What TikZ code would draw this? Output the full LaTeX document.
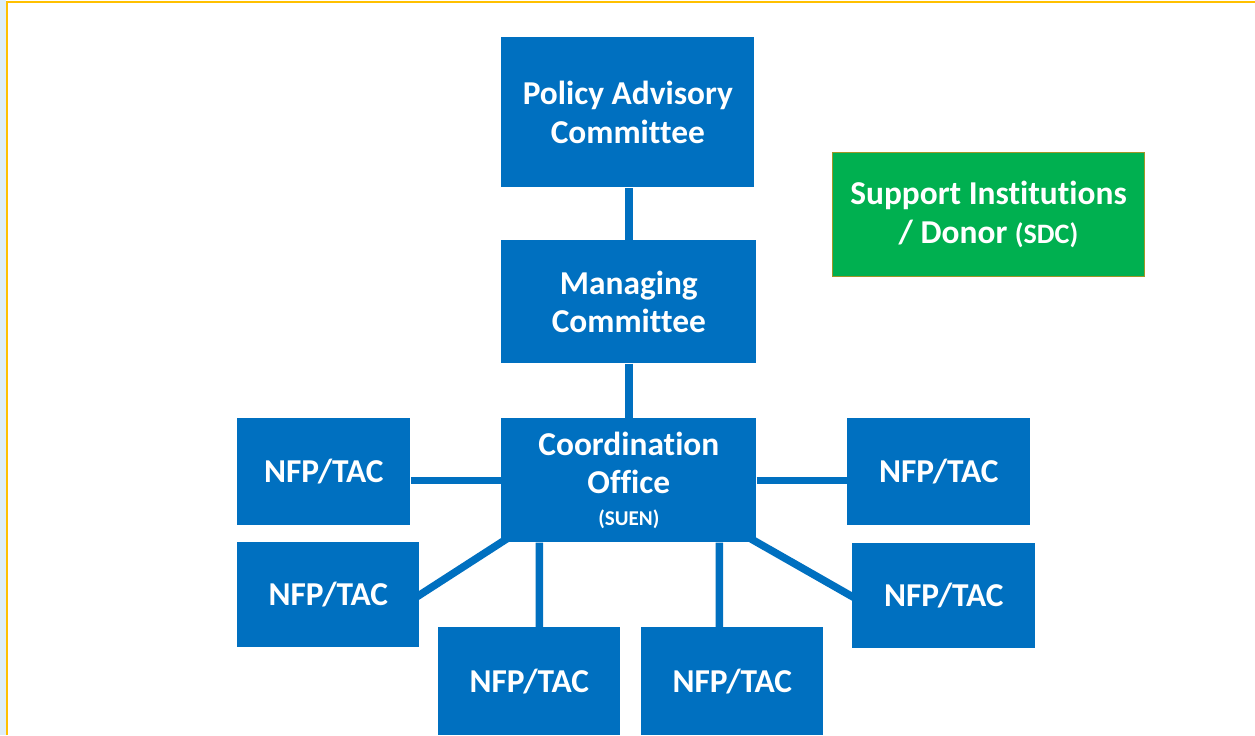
\documentclass[tikz,border=0pt]{standalone}
\usepackage		 {fontspec}
\usepackage		 {xcolor   }
\usepackage		 {tikz	  }
\usetikzlibrary{shapes,calc,positioning,backgrounds}
\setmainfont{Carlito}[RawFeature={-liga}]

\definecolor{boxblue}{RGB}{0,112,192}
\definecolor{boxgreen}{RGB}{0,176,80}
\definecolor{greenedge}{RGB}{160,150,40}
\definecolor{framegold}{RGB}{255,192,0}
\definecolor{stripblue}{RGB}{222,238,247}

\begin{document}
\begin{tikzpicture}[x=0.02cm,y=-0.02cm]
  \tikzset{
  blk/.style={rectangle,anchor=north west,fill=boxblue,text=white,inner sep=0pt,
    align=center,font=\fontsize{19}{22}\selectfont\bfseries},
  grn/.style={blk,fill=boxgreen,draw=greenedge,line width=0.6pt},
  link/.style={boxblue,line width=0.15cm},
  }
  \useasboundingbox (0,0) rectangle (1255,735);

  % the boxes
  \node[blk,minimum width=5.06cm,minimum height=3.00cm] (pac) at (501, 37) {Policy Advisory\\Committee};
  \node[blk,minimum width=5.10cm,minimum height=2.46cm] (mc)  at (501,240) {Managing\\Committee};
  \node[blk,minimum width=5.10cm,minimum height=2.48cm] (co)  at (501,418)
    {Coordination\\Office\\[-4pt]{\fontsize{12}{14}\selectfont (SUEN)}};
  \node[grn,minimum width=6.24cm,minimum height=2.48cm] (sid) at (832,152)
    {Support Institutions\\/ Donor {\fontsize{16}{18}\selectfont (SDC)}};

  \node[blk,minimum width=3.46cm,minimum height=2.14cm] (l1) at (237,418) {NFP/TAC};
  \node[blk,minimum width=3.64cm,minimum height=2.10cm] (l2) at (237,542) {NFP/TAC};
  \node[blk,minimum width=3.64cm,minimum height=2.16cm] (b1) at (438,627) {NFP/TAC};
  \node[blk,minimum width=3.64cm,minimum height=2.16cm] (b2) at (641,627) {NFP/TAC};
  \node[blk,minimum width=3.66cm,minimum height=2.14cm] (r1) at (847,418) {NFP/TAC};
  \node[blk,minimum width=3.66cm,minimum height=2.10cm] (r2) at (852,543) {NFP/TAC};

  \begin{pgfonlayer}{background}
  % the page and its frame
  \fill[white] (0,0) rectangle (1255,735);
  \fill[stripblue] (0,0) rectangle (6,735);
  \draw[framegold,line width=0.05cm] (7,735) -- (7,2) -- (1255,2);

  % the connection between the boxes
  \draw[link] (mc.north) -- (mc.north |- pac.south);
  \draw[link] (mc.south) -- (co.north);
  \draw[link] (co.west) -- (co.west -| l1.east);
  \draw[link] (co.east) -- (co.east -| r1.west);
  \draw[link] ($(co.south west)+(6,-4)$) -- ($(l2.east)+(-6,4)$);
  \draw[link] ($(co.south east)+(-6,-4)$) -- ($(r2.west)+(6,4)$);
  \draw[link] ([xshift=-1.79cm]co.south) -- ([xshift=0.20cm]b1.north);
  \draw[link] ([xshift=1.81cm]co.south) -- ([xshift=-0.26cm]b2.north);
  \end{pgfonlayer}
\end{tikzpicture}
\end{document}
